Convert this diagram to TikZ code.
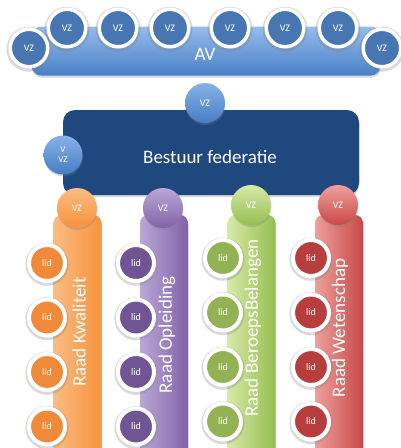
\documentclass[tikz,border=0pt]{standalone}
\usepackage{fontspec}
\setmainfont{Carlito}
\usetikzlibrary{shadows}

\definecolor{avtop}{RGB}{150,188,236}
\definecolor{avbot}{RGB}{72,128,198}
\definecolor{avball}{RGB}{72,118,178}
\definecolor{bluetop}{RGB}{135,178,232}
\definecolor{bluebot}{RGB}{70,125,196}
\definecolor{navy}{RGB}{30,72,126}
\definecolor{orlight}{RGB}{251,188,130}
\definecolor{ordark}{RGB}{247,146,60}
\definecolor{orlid}{RGB}{240,138,58}
\definecolor{pulight}{RGB}{186,168,216}
\definecolor{pudark}{RGB}{128,98,168}
\definecolor{pulid}{RGB}{112,84,148}
\definecolor{grlight}{RGB}{214,234,166}
\definecolor{grdark}{RGB}{150,190,80}
\definecolor{grlid}{RGB}{146,178,84}
\definecolor{relight}{RGB}{238,160,156}
\definecolor{redark}{RGB}{200,72,70}
\definecolor{relid}{RGB}{184,62,62}

\begin{document}
\begin{tikzpicture}
  [x=1pt, y=-1pt,
  shadowed/.style={drop shadow={opacity=0.3, shadow xshift=0.5pt, shadow yshift=-2pt}},
  glow/.style={drop shadow={opacity=0.3, shadow xshift=0pt, shadow yshift=-1pt,
  shadow scale=1.2}},
  ball/.style={circle, inner sep=0pt, minimum size=40pt, text=white,
  font=\fontsize{10}{11}\selectfont, align=center},
  ring/.style={ball, minimum size=36pt, draw=white, line width=4pt, glow},
  big/.style={text=white, font=\fontsize{19}{21}\selectfont},
  col/.style={rectangle, rounded corners=8pt, minimum width=48pt,
  minimum height=250pt, shadowed}]

  \useasboundingbox (0,0) rectangle (401,448);
  \clip (0,0) rectangle (401,448);

  % AV met voorzitters
  \node [rectangle, rounded corners=9pt, top color=avtop, bottom color=avbot,
    minimum width=348pt, minimum height=49pt, shadowed] (av) at (206,51) {};
  \node [big] (avtxt) at (205,54) {AV};
  \foreach \n/\x/\y in {a/29/48, b/67/28, c/118/28, d/170/28,
                        e/230/28, f/285/28, g/338/28, h/382/48}
    \node [ring, minimum size=37.5pt, line width=3.5pt, fill=avball] (vz\n) at (\x,\y) {VZ};

  % kolommen van de raden
  \node [col, left color=orlight, right color=ordark] (kwal) at (77.5,340) {};
  \node [col, left color=pulight, right color=pudark] (opl) at (164,340) {};
  \node [col, left color=grlight, right color=grdark] (beroep) at (251.5,340) {};
  \node [col, left color=relight, right color=redark] (wet) at (339,340) {};

  % bestuur
  \node [rectangle, rounded corners=12pt, fill=navy, minimum width=296pt,
    minimum height=85pt, shadowed] (bestuur) at (211,152.5) {};
  \node [big] (bsttxt) at (210,157) {Bestuur federatie};
  \node [ball, top color=bluetop, bottom color=bluebot, shadowed] (vzb) at (205,103) {VZ};
  \node [ball, minimum size=39pt, top color=bluetop, bottom color=bluebot, shadowed,
    font=\fontsize{9}{10}\selectfont] (vvz) at (63,155) {V\\VZ};

  % voorzitters van de raden
  \node [ball, top color=orlight, bottom color=ordark, shadowed] (vzkwal) at (77,208) {VZ};
  \node [ball, top color=pulight, bottom color=pudark, shadowed] (vzopl) at (163,208) {VZ};
  \node [ball, top color=grlight, bottom color=grdark, shadowed] (vzberoep) at (251,205) {VZ};
  \node [ball, top color=relight, bottom color=redark, shadowed] (vzwet) at (338,205) {VZ};

  \node [big, rotate=90] (kwaltxt) at (79,332) {Raad Kwaliteit};
  \node [big, rotate=90] (opltxt) at (167,335) {Raad Opleiding};
  \node [big, rotate=90] (beroeptxt) at (253,328) {Raad BeroepsBelangen};
  \node [big, rotate=90] (wettxt) at (340,328) {Raad Wetenschap};

  % leden
  \foreach \r/\x/\y/\c in {kwal/47/263/orlid, opl/136/263/pulid,
                           beroep/223/258/grlid, wet/311/258/relid}
    \foreach \k in {1,...,4}
      \node [ring, fill=\c] (lid\r\k) at (\x,\y+\k*54.5-54.5) {lid};
\end{tikzpicture}
\end{document}
